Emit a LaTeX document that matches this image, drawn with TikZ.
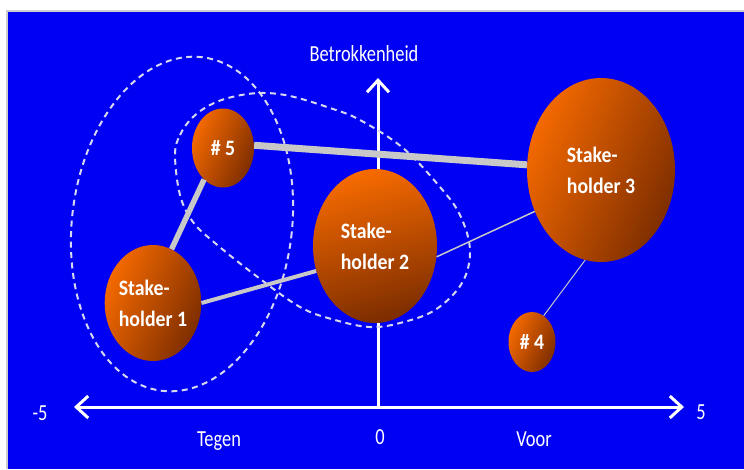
\documentclass[tikz,border=0pt]{standalone}
\usepackage{fontspec}
\setmainfont{Carlito}
\newfontfamily\lblfont[FakeStretch=0.8]{Carlito}
\newfontfamily\ballfont[FakeStretch=0.9]{Carlito}
\usetikzlibrary{shapes.geometric}
\usetikzlibrary{arrows.meta}
\definecolor{bgblue}{RGB}{0,0,242}
\definecolor{ballhi}{RGB}{246,106,0}
\definecolor{balllo}{RGB}{125,45,0}
\definecolor{linkgray}{RGB}{200,200,200}
\definecolor{dashgray}{RGB}{215,215,240}
\definecolor{framegray}{RGB}{205,205,205}

\begin{document}
\begin{tikzpicture}[x=1pt,y=1pt,>={Straight Barb[length=12pt,width=22pt]}]
  \tikzstyle{ball}=[ellipse,inner sep=0pt,text=white,align=left,
                    font=\ballfont\fontsize{22}{31}\selectfont\bfseries,
                    left color=ballhi,right color=balllo,shading angle=65]
  \tikzstyle{link}=[draw=linkgray]
  \tikzstyle{group}=[draw=dashgray,line width=2pt,dash pattern=on 6pt off 4.5pt]
  \tikzstyle{axis}=[draw=white,line width=3pt]
  \tikzstyle{lbl}=[text=white,font=\lblfont\fontsize{23}{26}\selectfont]
% frame
  \useasboundingbox (0,0) rectangle (744,-469);
  \fill[white] (0,0) rectangle (744,-469);
  \fill[framegray] (6,-10) rectangle (744,-469);
  \fill[bgblue] (8,-12) rectangle (744,-469);
% axes
  \coordinate (left)   at ( 74,-407);
  \coordinate (right)  at (684,-407);
  \coordinate (origin) at (378,-407);
  \coordinate (top)    at (378, -78);
  \draw[axis,<->] (left) -- (right);
  \draw[axis,->] (origin) -- (top);
  \node[lbl] (min)   at ( 40,-413) {-5};
  \node[lbl] (max)   at (701,-412) {5};
  \node[lbl] (zero)  at (380,-437) {0};
  \node[lbl] (tegen) at (219,-441) {Tegen};
  \node[lbl] (voor)  at (534,-439) {Voor};
  \node[lbl] (betr)  at (364, -54) {Betrokkenheid};
% dashed groups
  \node[group,ellipse,minimum width=220pt,minimum height=336pt,rotate=-7] (grpA) at (182,-224) {};
  \draw[group] plot[smooth cycle,tension=0.6] coordinates {
      (175,-155) (180,-135) (192,-118) (210,-105) (232,-97) (260,-93) (290,-96)
      (330,-108) (360,-120) (403,-148) (440,-187) (460,-215) (470,-250) (462,-283)
      (435,-310) (400,-323) (370,-327) (335,-320) (300,-307) (255,-275) (215,-243)
      (193,-222) (180,-195)};
% stakeholders
  \node[ball,minimum width=62pt,minimum height=79pt]   (n5) at (223,-148) {\# 5};
  \node[ball,minimum width=93pt,minimum height=116pt]  (s1) at (153,-303) {Stake-\\holder 1};
  \node[ball,minimum width=124pt,minimum height=154pt,shading angle=15] (s2) at (375,-246) {Stake-\\holder 2};
  \node[ball,minimum width=148pt,minimum height=184pt] (s3) at (601,-170) {Stake-\\holder 3};
  \node[ball,minimum width=47pt,minimum height=60pt]   (n4) at (532,-342) {\# 4};
% relations
  \draw[link,line width=7pt]   (n5.5)    -- (s3.176);
  \draw[link,line width=5.5pt] (n5.239)  -- (s1.71);
  \draw[link,line width=4pt]   (s1.east) -- (s2.203);
  \draw[link,line width=1.5pt] (s2.350)  -- (s3.212);
  \draw[link,line width=1pt]   (s3.260)  -- (n4.66);
\end{tikzpicture}
\end{document}
